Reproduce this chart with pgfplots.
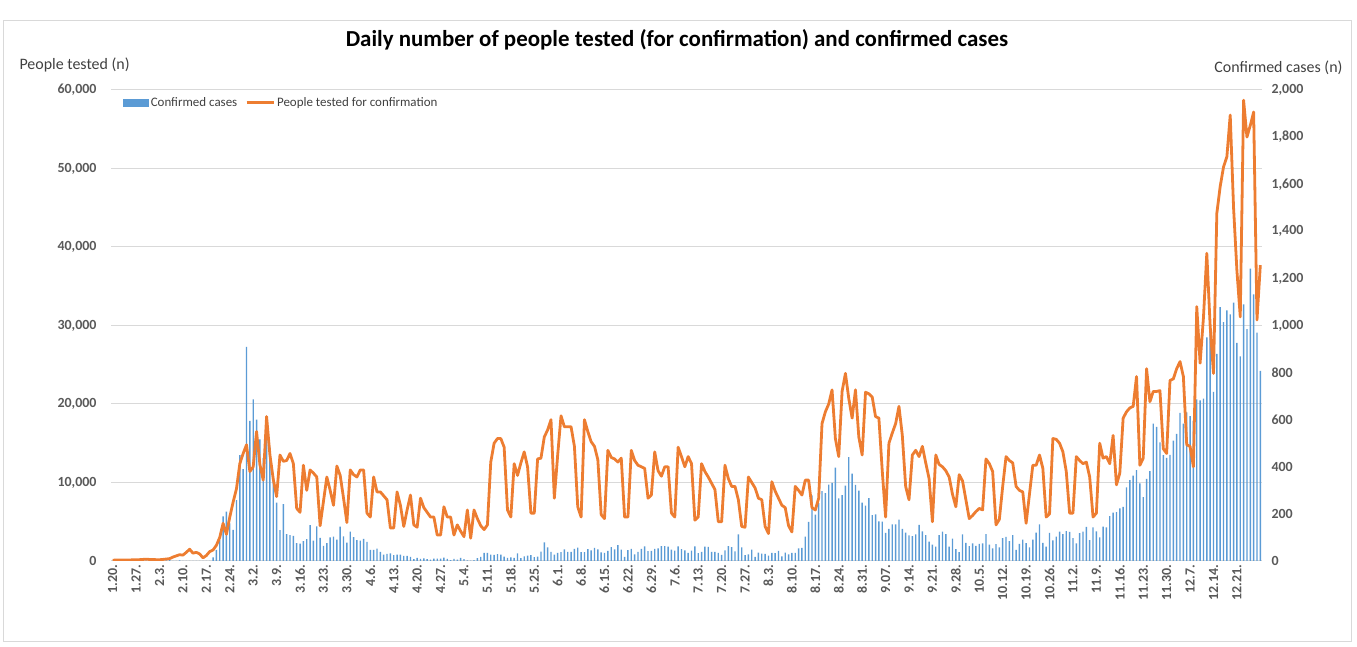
\documentclass[border=0pt]{standalone}
\usepackage{fontspec}
\setmainfont{Carlito}
\usepackage{pgfplots}
\usepackage{pgfplotstable}
\pgfplotsset{compat=1.18}
\definecolor{barblue}{HTML}{5B9BD5}
\definecolor{lineorange}{HTML}{ED7D31}
\definecolor{gridgray}{HTML}{D9D9D9}
\definecolor{txtgray}{HTML}{595959}
\definecolor{labgray}{HTML}{404040}
\definecolor{framegray}{HTML}{D9D9D9}

\pgfplotstableread[row sep=\\]{
d c t\\
0 1 100\\1 0 120\\2 0 130\\3 0 110\\4 1 120\\5 0 130\\6 1 150\\7 1 160\\8 0 170\\9 0 200\\
10 2 230\\11 5 200\\12 1 180\\13 3 170\\14 0 160\\15 1 200\\16 3 250\\17 5 300\\18 0 500\\19 0 650\\
20 3 800\\21 0 750\\22 1 1100\\23 0 1500\\24 0 1000\\25 0 1100\\26 0 900\\27 1 400\\28 1 700\\29 1 1200\\
30 15 1400\\31 47 2000\\32 89 3000\\33 190 4800\\34 210 3400\\35 160 5600\\36 132 7500\\37 259 9200\\38 450 12400\\39 390 13700\\
40 909 14800\\41 595 11400\\42 686 12000\\43 600 16500\\44 516 12300\\45 438 10300\\46 518 18400\\47 483 13500\\48 367 10400\\49 248 8200\\
50 131 13500\\51 242 12700\\52 114 12800\\53 110 13700\\54 107 12400\\55 76 6700\\56 74 6200\\57 84 12200\\58 93 9000\\59 152 11600\\
60 87 11200\\61 147 10700\\62 98 4500\\63 64 7600\\64 76 10700\\65 100 9000\\66 104 7100\\67 91 12100\\68 146 10900\\69 105 8000\\
70 78 4900\\71 125 11600\\72 101 11000\\73 89 10700\\74 86 11600\\75 94 11600\\76 81 6100\\77 47 5600\\78 47 10700\\79 53 8800\\
80 39 8800\\81 27 8300\\82 30 7800\\83 32 4200\\84 25 4200\\85 27 8800\\86 27 7100\\87 22 4400\\88 22 6500\\89 18 8400\\
90 8 4600\\91 13 4300\\92 9 8000\\93 11 6800\\94 8 6200\\95 6 5600\\96 10 5600\\97 10 3300\\98 10 3300\\99 14 6900\\
100 9 5600\\101 4 5600\\102 9 3300\\103 6 4600\\104 13 3800\\105 8 3100\\106 3 6500\\107 2 2900\\108 4 6500\\109 12 5400\\
110 18 4500\\111 34 4000\\112 35 4600\\113 27 12600\\114 26 15000\\115 29 15600\\116 27 15600\\117 19 14500\\118 13 6500\\119 15 5600\\
120 13 12400\\121 32 10900\\122 12 12500\\123 20 13900\\124 23 12000\\125 25 6100\\126 16 6100\\127 19 13000\\128 40 13100\\129 79 15800\\
130 58 16700\\131 39 18000\\132 27 8000\\133 35 13500\\134 38 18500\\135 49 17100\\136 39 17100\\137 39 17100\\138 51 14600\\139 57 6900\\
140 38 5600\\141 38 18000\\142 50 16500\\143 45 15200\\144 56 14600\\145 49 12900\\146 37 5900\\147 34 5400\\148 43 14100\\149 59 13200\\
150 49 13000\\151 67 12600\\152 48 13100\\153 17 5600\\154 46 5600\\155 51 14100\\156 28 12800\\157 39 12200\\158 51 12000\\159 62 11800\\
160 42 8000\\161 43 8400\\162 51 13900\\163 54 11500\\164 63 10800\\165 63 12000\\166 61 12000\\167 48 6100\\168 44 5600\\169 62 14500\\
170 50 13300\\171 45 12000\\172 35 13300\\173 44 12400\\174 62 5200\\175 33 5600\\176 39 12400\\177 61 11400\\178 60 10700\\179 39 9900\\
180 39 9100\\181 34 5000\\182 26 5000\\183 45 12200\\184 63 10500\\185 59 9500\\186 41 9500\\187 113 7800\\188 58 4400\\189 25 4300\\
190 28 10700\\191 48 10000\\192 18 9300\\193 36 8000\\194 31 7800\\195 30 4400\\196 23 3500\\197 34 10100\\198 33 8900\\199 43 8000\\
200 20 7100\\201 36 6800\\202 28 4500\\203 34 3700\\204 34 9500\\205 54 9000\\206 56 8400\\207 103 10300\\208 166 10300\\209 279 6800\\
210 197 6500\\211 246 8000\\212 297 17500\\213 288 19000\\214 324 20000\\215 332 21800\\216 397 15600\\217 266 13300\\218 280 21600\\219 320 23900\\
220 441 20700\\221 371 18200\\222 323 21800\\223 299 15800\\224 248 13500\\225 235 21500\\226 267 21300\\227 195 20900\\228 198 18400\\229 168 18200\\
230 167 11500\\231 119 5600\\232 136 15000\\233 156 16300\\234 155 17500\\235 176 19700\\236 136 16000\\237 121 9500\\238 109 7800\\239 106 13500\\
240 113 14100\\241 153 13300\\242 126 14600\\243 110 12500\\244 82 10500\\245 70 5000\\246 61 13500\\247 110 12300\\248 125 12000\\249 114 11500\\
250 61 10700\\251 95 8500\\252 50 6900\\253 38 11000\\254 113 10200\\255 77 7800\\256 63 5400\\257 75 5800\\258 64 6300\\259 73 6700\\
260 75 6500\\261 114 13000\\262 69 12400\\263 54 11400\\264 72 4600\\265 58 5300\\266 97 9500\\267 102 13300\\268 84 12800\\269 110 12500\\
270 47 9500\\271 73 9000\\272 91 8800\\273 76 4800\\274 58 8500\\275 91 12200\\276 121 12200\\277 155 13500\\278 77 11800\\279 61 5600\\
280 119 6000\\281 88 15600\\282 103 15500\\283 125 15000\\284 114 13900\\285 127 11400\\286 124 6100\\287 97 6100\\288 75 13300\\289 118 12800\\
290 125 12400\\291 145 12600\\292 89 10700\\293 143 5600\\294 126 6100\\295 100 15000\\296 146 13100\\297 143 13300\\298 191 12400\\299 205 16000\\
300 208 9700\\301 223 11200\\302 230 18200\\303 313 19000\\304 343 19500\\305 363 19700\\306 386 23500\\307 330 12200\\308 271 13100\\309 349 24500\\
310 382 20300\\311 583 21600\\312 569 21600\\313 504 21700\\314 450 14300\\315 438 13700\\316 451 23000\\317 511 23200\\318 540 24500\\319 629 25400\\
320 583 23500\\321 631 14800\\322 615 14600\\323 594 12000\\324 686 32400\\325 682 25200\\326 689 31000\\327 950 39200\\328 1030 30000\\329 718 23900\\
330 880 44300\\331 1078 47700\\332 1014 50200\\333 1064 51500\\334 1047 56800\\335 1097 45000\\336 926 37000\\337 869 31100\\338 1090 58700\\339 985 54000\\
340 1241 55500\\341 1132 57200\\342 970 30700\\343 807 37700\\
}\datatable

\begin{document}
\begin{tikzpicture}
\path[use as bounding box] (0bp,0bp) rectangle (1357bp,647bp);
\draw[framegray, line width=0.8bp] (3bp,6bp) rectangle (1351bp,627bp);
\node[font=\bfseries\fontsize{23}{27}\selectfont, text=black] at (677bp,607bp) {Daily number of people tested (for confirmation) and confirmed cases};
\node[anchor=west, font=\fontsize{16}{19}\selectfont, text=labgray] at (16bp,582bp) {People tested (n)};
\node[anchor=east, font=\fontsize{16}{19}\selectfont, text=labgray] at (1346bp,579bp) {Confirmed cases (n)};

\begin{axis}[
  at={(111bp,86bp)}, anchor=south west, scale only axis,
  width=1151bp, height=471bp,
  xmin=-0.5, xmax=343.5, ymin=0, ymax=2000,
  axis y line*=right, axis x line*=bottom,
  y axis line style={draw=none},
  x axis line style={draw=gridgray, line width=1bp, -},
  major tick length=0pt,
  scaled y ticks=false,
  ytick={0,200,...,2000},
  /pgf/number format/1000 sep={,},
  /pgf/number format/assume math mode=true,
  yticklabel style={font=\bfseries\fontsize{14}{16}\selectfont, text=txtgray, xshift=6bp},
  xtick={0,7,...,336},
  xticklabels={1.20.,1.27.,2.3.,2.10.,2.17.,2.24.,3.2.,3.9.,3.16.,3.23.,3.30.,4.6.,4.13.,4.20.,4.27.,5.4.,5.11.,5.18.,5.25.,6.1.,6.8.,6.15.,6.22.,6.29.,7.6.,7.13.,7.20.,7.27.,8.3.,8.10.,8.17.,8.24.,8.31.,9.07.,9.14.,9.21.,9.28.,10.5.,10.12.,10.19.,10.26.,11.2.,11.9.,11.16.,11.23.,11.30.,12.7.,12.14.,12.21.},
  xticklabel style={rotate=90, anchor=east, font=\bfseries\fontsize{14}{16}\selectfont, text=txtgray},
  extra y ticks={333.3333,666.6667,1000,1333.3333,1666.6667,2000},
  extra y tick labels={},
  extra y tick style={grid=major, major grid style={draw=gridgray, line width=1bp}},
  ybar, bar width=0.42,
]
\addplot[fill=barblue, draw=none] table[x=d, y=c] {\datatable};
\end{axis}

\begin{axis}[
  at={(111bp,86bp)}, anchor=south west, scale only axis,
  width=1151bp, height=471bp,
  xmin=-0.5, xmax=343.5, ymin=0, ymax=60000,
  axis y line*=left, hide x axis,
  y axis line style={draw=none},
  major tick length=0pt,
  scaled y ticks=false,
  ytick={0,10000,...,60000},
  /pgf/number format/1000 sep={,},
  /pgf/number format/assume math mode=true,
  yticklabel style={font=\bfseries\fontsize{14}{16}\selectfont, text=txtgray, xshift=-11bp},
  legend columns=2,
  legend style={at={(0.008,0.994)}, anchor=north west, draw=none, fill=none,
    font=\fontsize{13}{15}\selectfont, text=labgray,
    /tikz/every even column/.append style={column sep=6bp}},
]
\addlegendimage{legend image code/.code={\fill[barblue] (0bp,-3.5bp) rectangle (25bp,3.5bp);}}
\addlegendentry{Confirmed cases}
\addplot[lineorange, line width=2.8bp, line join=round, mark=none,
  legend image code/.code={\draw[lineorange, line width=2.8bp] (0bp,0bp) -- (27bp,0bp);}]
  table[x=d, y=t] {\datatable};
\addlegendentry{People tested for confirmation}
\end{axis}
\end{tikzpicture}
\end{document}
